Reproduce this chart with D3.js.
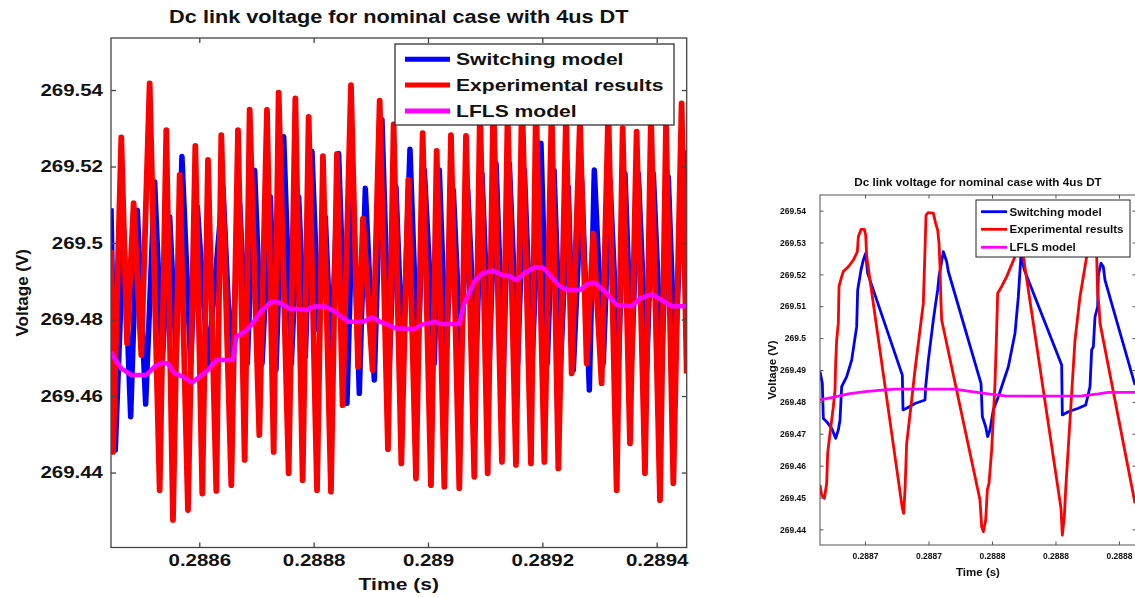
<!DOCTYPE html>
<html>
<head>
<meta charset="utf-8">
<script src="https://cdn.jsdelivr.net/npm/d3@7"></script>
<style>
  html, body { margin: 0; padding: 0; background: #fff; }
  svg { display: block; }
</style>
</head>
<body>
<svg id="fig" width="1135" height="597"></svg>
<script>
// ---------- Wide window: 0.28845 s .. 0.28945 s ----------
const wideTimeTicks = [0.2886, 0.2888, 0.289, 0.2892, 0.2894];
const wideVoltTicks = [269.44, 269.46, 269.48, 269.5, 269.52, 269.54];

// Switching model [time (s), voltage (V)] – turning points of the ripple
const wideSwitching = [
  [0.2884456,269.5091],[0.2884531,269.4459],[0.2884677,269.5034],[0.2884800,269.4546],
  [0.2884916,269.5086],[0.2885062,269.4579],[0.2885219,269.5160],[0.2885353,269.4685],
  [0.2885482,269.5069],[0.2885598,269.4703],[0.2885697,269.5226],[0.2885849,269.4685],
  [0.2885966,269.5095],[0.2886152,269.4681],[0.2886414,269.5147],[0.2886560,269.4668],
  [0.2886706,269.5104],[0.2886840,269.4685],[0.2886968,269.5190],[0.2887097,269.4685],
  [0.2887242,269.5121],[0.2887341,269.4668],[0.2887476,269.5278],[0.2887610,269.4685],
  [0.2887738,269.5121],[0.2887855,269.4703],[0.2887971,269.5239],[0.2888088,269.4773],
  [0.2888204,269.5069],[0.2888309,269.4698],[0.2888437,269.5234],[0.2888583,269.4581],
  [0.2888688,269.5139],[0.2888799,269.4607],[0.2888904,269.5143],[0.2889061,269.4642],
  [0.2889195,269.5322],[0.2889324,269.4685],[0.2889440,269.5147],[0.2889557,269.4685],
  [0.2889685,269.5245],[0.2889819,269.4685],[0.2889936,269.5191],[0.2890111,269.4685],
  [0.2890198,269.5191],[0.2890315,269.4703],[0.2890443,269.5139],[0.2890577,269.4694],
  [0.2890694,269.5139],[0.2890840,269.4685],[0.2890944,269.5182],[0.2891073,269.4694],
  [0.2891190,269.5208],[0.2891318,269.4677],[0.2891423,269.5208],[0.2891568,269.4685],
  [0.2891685,269.5191],[0.2891819,269.4677],[0.2891976,269.5261],[0.2892087,269.4685],
  [0.2892204,269.5191],[0.2892320,269.4685],[0.2892454,269.5147],[0.2892542,269.4668],
  [0.2892688,269.5165],[0.2892822,269.4616],[0.2892909,269.5191],[0.2893066,269.4685],
  [0.2893183,269.5165],[0.2893329,269.4685],[0.2893445,269.5182],[0.2893562,269.4694],
  [0.2893679,269.5182],[0.2893824,269.4668],[0.2893941,269.5182],[0.2894087,269.4677],
  [0.2894203,269.5173],[0.2894320,269.4685],[0.2894466,269.5239],[0.2894525,269.5034]
];

// Experimental results [time (s), voltage (V)]
const wideExperimental = [
  [0.2884456,269.4982],[0.2884491,269.4454],[0.2884636,269.5276],[0.2884736,269.4738],
  [0.2884852,269.5104],[0.2884986,269.4707],[0.2885132,269.5417],[0.2885307,269.4354],
  [0.2885423,269.5295],[0.2885540,269.4276],[0.2885657,269.5178],[0.2885802,269.4302],
  [0.2885931,269.5254],[0.2886053,269.4345],[0.2886152,269.5217],[0.2886298,269.4352],
  [0.2886385,269.5282],[0.2886560,269.4367],[0.2886677,269.5295],[0.2886794,269.4433],
  [0.2886881,269.5349],[0.2887050,269.4498],[0.2887184,269.5348],[0.2887301,269.4454],
  [0.2887388,269.5393],[0.2887563,269.4398],[0.2887680,269.5378],[0.2887808,269.4380],
  [0.2887913,269.5330],[0.2888059,269.4354],[0.2888163,269.5227],[0.2888303,269.4350],
  [0.2888408,269.5233],[0.2888507,269.4576],[0.2888653,269.5413],[0.2888776,269.4677],
  [0.2888863,269.5064],[0.2889032,269.4668],[0.2889155,269.5372],[0.2889300,269.4461],
  [0.2889399,269.5310],[0.2889534,269.4424],[0.2889656,269.5165],[0.2889790,269.4385],
  [0.2889907,269.5287],[0.2890052,269.4367],[0.2890152,269.5241],[0.2890286,269.4363],
  [0.2890402,269.5282],[0.2890548,269.4359],[0.2890665,269.5280],[0.2890810,269.4389],
  [0.2890910,269.5360],[0.2891044,269.4398],[0.2891143,269.5380],[0.2891294,269.4428],
  [0.2891393,269.5340],[0.2891539,269.4420],[0.2891644,269.5390],[0.2891801,269.4424],
  [0.2891889,269.5370],[0.2892035,269.4428],[0.2892163,269.5350],[0.2892280,269.4411],
  [0.2892414,269.5330],[0.2892513,269.4659],[0.2892658,269.5320],[0.2892775,269.4685],
  [0.2892892,269.5025],[0.2893037,269.4633],[0.2893154,269.5350],[0.2893300,269.4354],
  [0.2893405,269.5300],[0.2893533,269.4476],[0.2893649,269.5291],[0.2893795,269.4398],
  [0.2893900,269.5340],[0.2894058,269.4328],[0.2894163,269.5310],[0.2894291,269.4372],
  [0.2894436,269.5365],[0.2894525,269.4659]
];

// LFLS model [time (s), voltage (V)]
const wideLFLS = [
  [0.2884456,269.4716],[0.2884520,269.4698],[0.2884636,269.4672],[0.2884811,269.4655],
  [0.2885074,269.4655],[0.2885219,269.4677],[0.2885336,269.4687],[0.2885453,269.4685],
  [0.2885569,269.4659],[0.2885715,269.4651],[0.2885878,269.4635],[0.2886006,269.4651],
  [0.2886152,269.4668],[0.2886298,269.4694],[0.2886589,269.4694],[0.2886648,269.4755],
  [0.2886794,269.4768],[0.2886910,269.4786],[0.2887097,269.4825],[0.2887272,269.4847],
  [0.2887417,269.4844],[0.2887563,269.4829],[0.2887884,269.4825],[0.2888000,269.4834],
  [0.2888204,269.4834],[0.2888350,269.4823],[0.2888496,269.4806],[0.2888612,269.4794],
  [0.2888875,269.4794],[0.2889021,269.4806],[0.2889166,269.4794],[0.2889312,269.4786],
  [0.2889429,269.4777],[0.2889761,269.4775],[0.2889878,269.4786],[0.2890111,269.4794],
  [0.2890256,269.4788],[0.2890548,269.4788],[0.2890635,269.4842],[0.2890810,269.4899],
  [0.2890956,269.4921],[0.2891131,269.4928],[0.2891306,269.4916],[0.2891423,269.4914],
  [0.2891539,269.4903],[0.2891685,269.4921],[0.2891860,269.4936],[0.2892006,269.4936],
  [0.2892105,269.4921],[0.2892280,269.4890],[0.2892425,269.4877],[0.2892658,269.4877],
  [0.2892804,269.4895],[0.2892921,269.4896],[0.2893096,269.4873],[0.2893300,269.4838],
  [0.2893562,269.4835],[0.2893708,269.4855],[0.2893912,269.4866],[0.2894087,269.4851],
  [0.2894262,269.4835],[0.2894525,269.4835]
];

// ---------- Close-up window: 0.28865 s .. 0.28885 s ----------
const zoomTimeTicks = [0.28868, 0.28872, 0.28876, 0.2888, 0.28884];
const zoomVoltTicks = [269.44, 269.45, 269.46, 269.47, 269.48, 269.49, 269.5, 269.51, 269.52, 269.53, 269.54];

const zoomSwitching = [
  [0.28865165,269.4895],[0.28865312,269.4858],[0.28865375,269.4748],[0.28865585,269.4738],
  [0.2886590,269.4717],[0.28866152,269.4686],[0.2886632,269.4712],[0.28866425,269.4743],
  [0.2886653,269.4848],[0.28866845,269.4879],[0.2886716,269.4931],[0.28867475,269.5036],
  [0.28867538,269.5151],[0.28867748,269.5214],[0.28867895,269.5245],[0.28868042,269.5266],
  [0.28868168,269.5203],[0.28870352,269.4884],[0.28870394,269.4775],[0.28870625,269.4780],
  [0.2887115,269.4795],[0.2887178,269.4806],[0.28871822,269.4848],[0.2887199,269.4931],
  [0.288722,269.5015],[0.28872305,269.5057],[0.28872452,269.5109],[0.28872578,269.5151],
  [0.28872662,269.5193],[0.2887283,269.5240],[0.28872935,269.5271],[0.28873145,269.5240],
  [0.2887325,269.5209],[0.28875308,269.4858],[0.28875392,269.4754],[0.28875602,269.4722],
  [0.28875728,269.4691],[0.28875875,269.4712],[0.28876085,269.4775],[0.288764,269.4816],
  [0.2887703,269.4910],[0.2887745,269.5015],[0.2887766,269.5130],[0.28877828,269.5261],
  [0.28878038,269.5214],[0.2888039,269.4916],[0.28880432,269.4759],[0.2888081,269.4769],
  [0.2888144,269.4780],[0.28881902,269.4790],[0.28882028,269.4816],[0.28882175,269.4848],
  [0.2888228,269.4963],[0.28882385,269.4973],[0.2888249,269.5067],[0.28882658,269.5099],
  [0.288827,269.5198],[0.28882868,269.5235],[0.28883015,269.5224],[0.2888312,269.5182],
  [0.2888501,269.4853]
];

const zoomExperimental = [
  [0.28865165,269.4539],[0.2886527,269.4508],[0.28865438,269.4497],[0.28865585,269.4544],
  [0.28865648,269.4639],[0.28865795,269.4701],[0.28866005,269.4785],[0.2886611,269.4837],
  [0.28866152,269.4921],[0.28866215,269.4994],[0.2886632,269.5047],[0.28866362,269.5162],
  [0.2886653,269.5193],[0.28866635,269.5209],[0.2886695,269.5224],[0.28867265,269.5245],
  [0.28867517,269.5271],[0.2886758,269.5318],[0.28867748,269.5341],[0.28867958,269.5341],
  [0.28868042,269.5324],[0.28868105,269.5256],[0.28870352,269.4466],[0.28870436,269.4450],
  [0.2887052,269.4524],[0.28870625,269.4670],[0.28870772,269.4733],[0.2887094,269.4806],
  [0.2887115,269.4900],[0.28871465,269.5026],[0.28871675,269.5109],[0.2887178,269.5277],
  [0.28871843,269.5386],[0.2887199,269.5394],[0.28872305,269.5392],[0.28872452,269.5360],
  [0.28872578,269.5339],[0.28872662,269.5298],[0.28872725,269.5224],[0.28872788,269.5109],
  [0.2887283,269.5057],[0.28875245,269.4492],[0.2887535,269.4408],[0.28875455,269.4393],
  [0.28875602,269.4429],[0.28875707,269.4524],[0.28875812,269.4544],[0.2887598,269.4649],
  [0.2887619,269.4858],[0.28876295,269.5026],[0.28876358,269.5141],[0.2887661,269.5162],
  [0.28876925,269.5193],[0.2887745,269.5256],[0.28877765,269.5318],[0.28877975,269.5256],
  [0.28880348,269.4466],[0.28880432,269.4382],[0.28880558,269.4440],[0.28880642,269.4524],
  [0.2888081,269.4659],[0.2888102,269.4827],[0.2888123,269.4994],[0.28881545,269.5130],
  [0.28881965,269.5256],[0.28882385,269.5329],[0.28882595,269.5256],[0.28882658,269.5141],
  [0.28882742,269.5099],[0.28882805,269.5047],[0.2888501,269.4482]
];

const zoomLFLS = [
  [0.28865165,269.4806],[0.2886611,269.4816],[0.2886695,269.4825],[0.28868,269.4832],
  [0.2886905,269.4837],[0.2886989,269.4840],[0.2887115,269.4840],[0.2887367,269.4840],
  [0.2887472,269.4832],[0.2887577,269.4825],[0.2887682,269.4819],[0.288785,269.4818],
  [0.2888165,269.4819],[0.288827,269.4825],[0.2888333,269.4830],[0.2888501,269.4830]
];

const seriesNames = ["Switching model", "Experimental results", "LFLS model"];
const seriesColors = ["#0000ff", "#ff0000", "#ff00ff"];
const chartTitle = "Dc link voltage for nominal case with 4us DT";

// ---------- drawing ----------
const svg = d3.select("#fig");
const defs = svg.append("defs");
defs.append("filter").attr("id", "soft")
  .attr("x", "-5%").attr("y", "-5%").attr("width", "110%").attr("height", "110%")
  .append("feGaussianBlur").attr("stdDeviation", 0.55);

const FONT = "'Liberation Sans', Arial, sans-serif";

// widen text horizontally by factor k
function stretch(sel, k) {
  sel.each(function () {
    if (k === 1) return;
    const w = this.getComputedTextLength();
    this.setAttribute("textLength", w * k);
    this.setAttribute("lengthAdjust", "spacingAndGlyphs");
  });
}

function label(g, txt, x, y, size, k, anchor, rotate) {
  const t = g.append("text")
    .attr("x", x).attr("y", y)
    .attr("font-family", FONT).attr("font-weight", "bold")
    .attr("font-size", size).attr("fill", "#111")
    .attr("text-anchor", anchor || "middle")
    .text(txt);
  if (rotate) t.attr("transform", `rotate(${rotate},${x},${y})`);
  stretch(t, k);
  return t;
}

function panel(o) {
  const g = svg.append("g");
  if (o.filter) g.attr("filter", `url(#${o.filter})`);
  const b = o.box;
  const x = d3.scaleLinear().domain(o.xDomain).range([b.left, b.right]);
  const y = d3.scaleLinear().domain(o.yDomain).range([b.bottom, b.top]);

  defs.append("clipPath").attr("id", "clip-" + o.name)
    .append("rect").attr("x", b.left).attr("y", b.top)
    .attr("width", b.right - b.left).attr("height", b.bottom - b.top);

  const line = d3.line().x(d => x(d[0])).y(d => y(d[1]));
  const plot = g.append("g").attr("clip-path", `url(#clip-${o.name})`);
  o.series.forEach((s, i) => {
    plot.append("path").datum(s)
      .attr("d", line).attr("fill", "none")
      .attr("stroke", seriesColors[i]).attr("stroke-width", o.lineWidths[i])
      .attr("stroke-linejoin", "round").attr("stroke-linecap", "butt");
  });

  const fmt = v => String(+v.toFixed(4));
  const addAxis = (axis, tr) => {
    const a = g.append("g").attr("transform", tr).call(axis);
    a.attr("font-size", null).attr("font-family", null);
    a.select(".domain").remove();
    a.selectAll(".tick line").attr("stroke", o.frameColor).attr("stroke-width", o.frameWidth);
    a.selectAll("text").attr("font-family", FONT).attr("font-weight", "bold")
      .attr("font-size", o.tickFont).attr("fill", "#111");
    return a;
  };
  const bottomAx = addAxis(d3.axisBottom(x).tickValues(o.xTicks).tickSize(-o.tickLen)
      .tickPadding(o.xPad).tickFormat(v => v.toFixed(4).replace(/0+$/, "")), `translate(0,${b.bottom})`);
  addAxis(d3.axisTop(x).tickValues(o.xTicks).tickSize(-o.tickLen).tickFormat(""), `translate(0,${b.top})`);
  const leftAx = addAxis(d3.axisLeft(y).tickValues(o.yTicks).tickSize(-o.tickLen)
      .tickPadding(o.yPad).tickFormat(fmt), `translate(${b.left},0)`);
  addAxis(d3.axisRight(y).tickValues(o.yTicks).tickSize(-o.tickLen).tickFormat(""), `translate(${b.right},0)`);
  stretch(bottomAx.selectAll("text"), o.tickStretch);
  stretch(leftAx.selectAll("text"), o.tickStretch);

  g.append("rect").attr("x", b.left).attr("y", b.top)
    .attr("width", b.right - b.left).attr("height", b.bottom - b.top)
    .attr("fill", "none").attr("stroke", o.frameColor).attr("stroke-width", o.frameWidth);

  // titles
  const cx = (b.left + b.right) / 2;
  label(g, chartTitle, o.titleX ?? cx, o.titleY, o.titleFont, o.textStretch);
  label(g, "Time (s)", o.xLabelX ?? cx, o.xLabelY, o.labelFont, o.textStretch);
  label(g, "Voltage (V)", o.yLabelX, (b.top + b.bottom) / 2, o.labelFont, 1, "middle", -90);

  // legend
  const L = o.legend;
  g.append("rect").attr("x", L.x0).attr("y", L.y0)
    .attr("width", L.x1 - L.x0).attr("height", L.y1 - L.y0)
    .attr("fill", "#fff").attr("stroke", "#222").attr("stroke-width", L.stroke);
  seriesNames.forEach((name, i) => {
    const ry = L.rows[i];
    g.append("line").attr("x1", L.lx0).attr("x2", L.lx1).attr("y1", ry).attr("y2", ry)
      .attr("stroke", seriesColors[i]).attr("stroke-width", L.lineWidth);
    label(g, name, L.tx, ry + L.font * 0.36, L.font, o.textStretch, "start");
  });
}

// Wide window
panel({
  name: "wide",
  box: { left: 111, right: 686.7, top: 38, bottom: 547.5 },
  xDomain: [0.2884456, 0.2894525],
  yDomain: [269.4204, 269.5536],
  xTicks: wideTimeTicks, yTicks: wideVoltTicks,
  series: [wideSwitching, wideExperimental, wideLFLS],
  lineWidths: [5.5, 5.8, 4.5],
  frameColor: "#444", frameWidth: 1.3, tickLen: 5,
  tickFont: 16.5, tickStretch: 1.24, xPad: 7, yPad: 8,
  textStretch: 1.24,
  titleFont: 17.5, titleY: 23,
  labelFont: 17, xLabelY: 590, yLabelX: 28,
  legend: { x0: 395, x1: 674, y0: 44, y1: 125, rows: [59.3, 85, 111],
            lx0: 405, lx1: 450, tx: 456, font: 17, lineWidth: 5, stroke: 1.2 }
});

// Close-up window
panel({
  name: "zoom", filter: "soft",
  box: { left: 820, right: 1136, top: 195, bottom: 545 },
  xDomain: [0.28865165, 0.28885073],
  yDomain: [269.4351, 269.5449],
  xTicks: zoomTimeTicks, yTicks: zoomVoltTicks,
  series: [zoomSwitching, zoomExperimental, zoomLFLS],
  lineWidths: [2.8, 2.8, 2.8],
  frameColor: "#555", frameWidth: 1, tickLen: 3.5,
  tickFont: 8.5, tickStretch: 1, xPad: 8, yPad: 14,
  textStretch: 1,
  titleFont: 11.7, titleY: 186, titleX: 978,
  labelFont: 11.5, xLabelY: 576, xLabelX: 978, yLabelX: 776,
  legend: { x0: 976, x1: 1130, y0: 200, y1: 257, rows: [211.7, 229.3, 247.3],
            lx0: 981, lx1: 1007, tx: 1009.5, font: 11.6, lineWidth: 2.8, stroke: 1 }
});
</script>
</body>
</html>
